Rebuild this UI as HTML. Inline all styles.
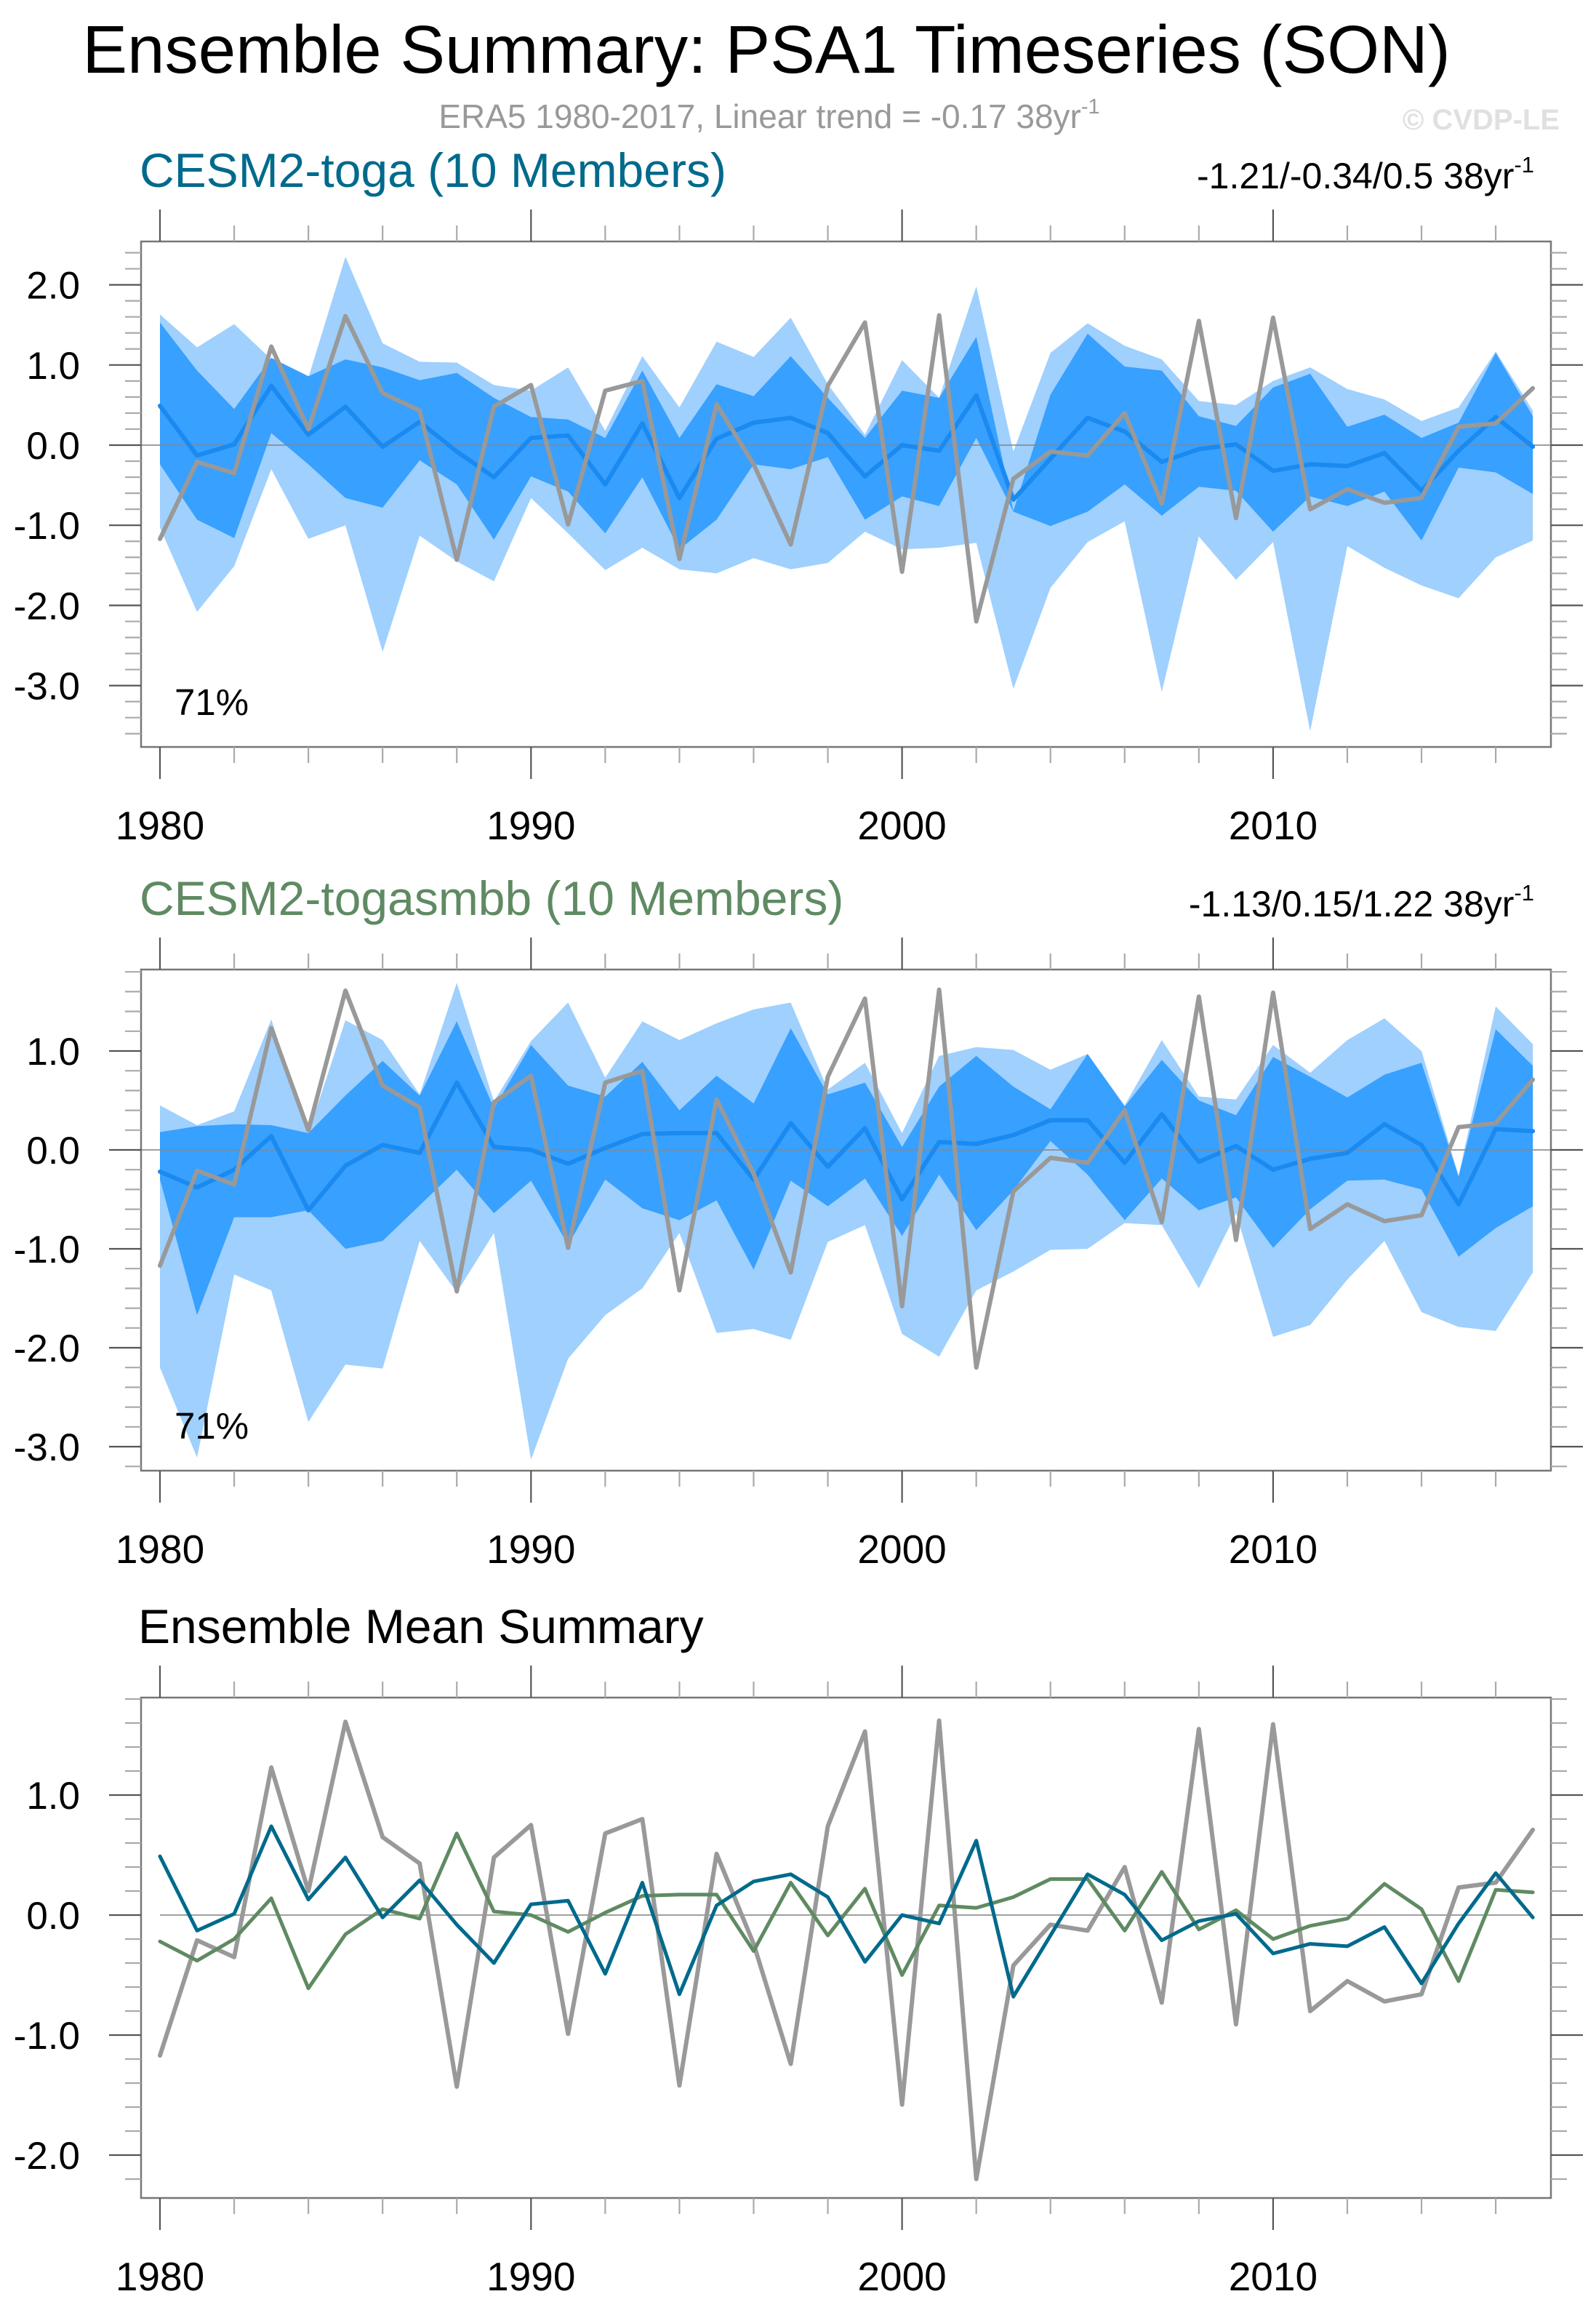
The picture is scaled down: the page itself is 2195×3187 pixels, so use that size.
<!DOCTYPE html>
<html><head><meta charset="utf-8"><title>Ensemble Summary: PSA1 Timeseries (SON)</title>
<style>html,body{margin:0;padding:0;background:#fff}svg{display:block}text{font-family:"Liberation Sans",sans-serif}</style>
</head><body>
<svg id="fig" xmlns="http://www.w3.org/2000/svg" width="2195" height="3187" viewBox="0 0 2195 3187">
<rect width="2195" height="3187" fill="#fff"/>
<text x="1054" y="100" font-size="92.5" text-anchor="middle" fill="#000">Ensemble Summary: PSA1 Timeseries (SON)</text>
<text x="1058" y="176" font-size="46" text-anchor="middle" fill="#999">ERA5 1980-2017, Linear trend = -0.17 38yr<tspan font-size="29" dy="-20">-1</tspan></text>
<text x="2145" y="178" font-size="40" font-weight="bold" text-anchor="end" fill="#e0e0e0">© CVDP-LE</text>
<g id="plots"></g>
</svg>
<script>
const years = [];
for (let y = 1980; y <= 2017; y++) years.push(y);
const obs = [-1.17,-0.21,-0.35,1.23,0.2,1.61,0.65,0.43,-1.43,0.48,0.75,-0.99,0.68,0.8,-1.42,0.51,-0.24,-1.24,0.74,1.53,-1.58,1.62,-2.2,-0.42,-0.08,-0.13,0.4,-0.73,1.55,-0.91,1.59,-0.8,-0.55,-0.72,-0.66,0.23,0.27,0.71];
const togaMean = [0.49,-0.13,0.01,0.74,0.13,0.48,-0.02,0.29,-0.08,-0.4,0.09,0.12,-0.49,0.27,-0.66,0.08,0.28,0.34,0.15,-0.39,0,-0.07,0.62,-0.68,-0.17,0.34,0.17,-0.21,-0.05,0.01,-0.32,-0.24,-0.26,-0.1,-0.57,-0.07,0.35,-0.02];
const togaMaxAll = [1.63,1.22,1.51,1.07,0.84,2.35,1.27,1.04,1.03,0.75,0.68,0.97,0.18,1.11,0.47,1.29,1.1,1.59,0.76,0.13,1.06,0.59,1.98,-0.08,1.15,1.52,1.24,1.07,0.55,0.5,0.8,0.97,0.7,0.57,0.3,0.47,1.17,0.43];
const togaHi = [1.53,0.93,0.45,1.09,0.86,1.07,0.97,0.81,0.9,0.59,0.35,0.32,0.09,0.93,0.09,0.76,0.61,1.11,0.59,0.09,0.68,0.59,1.35,-0.82,0.63,1.39,0.98,0.93,0.36,0.24,0.72,0.89,0.23,0.38,0.09,0.28,1.15,0.36];
const togaLo = [-0.24,-0.93,-1.16,0.15,-0.24,-0.66,-0.78,-0.19,-0.49,-1.18,-0.39,-0.58,-1.1,-0.4,-1.3,-0.93,-0.24,-0.3,-0.15,-0.93,-0.64,-0.76,0.09,-0.83,-1.01,-0.83,-0.49,-0.88,-0.52,-0.57,-1.08,-0.64,-0.76,-0.58,-1.19,-0.28,-0.34,-0.61];
const togaMinAll = [-1.03,-2.08,-1.51,-0.3,-1.17,-1.0,-2.58,-1.13,-1.45,-1.7,-0.66,-1.1,-1.56,-1.28,-1.55,-1.6,-1.41,-1.55,-1.47,-1.08,-1.3,-1.28,-1.22,-3.04,-1.78,-1.21,-0.95,-3.08,-1.14,-1.68,-1.21,-3.57,-1.26,-1.53,-1.75,-1.91,-1.4,-1.19];
const smbbMean = [-0.22,-0.38,-0.2,0.14,-0.61,-0.16,0.05,-0.03,0.68,0.03,0,-0.14,0.02,0.16,0.17,0.17,-0.3,0.27,-0.17,0.22,-0.5,0.08,0.06,0.15,0.3,0.3,-0.13,0.36,-0.12,0.04,-0.2,-0.09,-0.03,0.26,0.05,-0.55,0.21,0.19];
const smbbMaxAll = [0.45,0.25,0.39,1.32,0.17,1.31,1.11,0.56,1.69,0.49,1.1,1.49,0.73,1.3,1.11,1.28,1.42,1.49,0.61,0.88,0.17,0.95,1.04,1.01,0.81,0.97,0.45,1.11,0.54,0.51,1.06,0.78,1.11,1.33,1.0,-0.26,1.45,1.07];
const smbbHi = [0.18,0.24,0.26,0.25,0.17,0.55,0.9,0.55,1.3,0.42,1.06,0.65,0.54,0.89,0.4,0.75,0.47,1.23,0.56,0.68,0.03,0.64,0.95,0.64,0.41,0.97,0.44,0.91,0.5,0.35,0.94,0.74,0.53,0.76,0.88,-0.27,1.22,0.85];
const smbbLo = [-0.3,-1.67,-0.68,-0.68,-0.61,-1.0,-0.92,-0.56,-0.2,-0.64,-0.31,-0.96,-0.3,-0.59,-0.71,-0.51,-1.21,-0.31,-0.57,-0.29,-0.87,-0.25,-0.81,-0.41,0.09,-0.25,-0.71,-0.29,-0.61,-0.48,-0.99,-0.6,-0.31,-0.3,-0.4,-1.08,-0.79,-0.57];
const smbbMinAll = [-2.2,-3.11,-1.26,-1.42,-2.75,-2.17,-2.21,-0.92,-1.44,-0.84,-3.13,-2.11,-1.67,-1.4,-0.84,-1.85,-1.81,-1.92,-0.93,-0.76,-1.86,-2.09,-1.42,-1.23,-1.01,-1.0,-0.74,-0.76,-1.4,-0.64,-1.89,-1.77,-1.31,-0.92,-1.64,-1.79,-1.83,-1.24];
const xTickYears = [1980,1990,2000,2010];
const NS = "http://www.w3.org/2000/svg";
const root = document.getElementById('plots');
function mk(tag, attrs, parent, txt) {
  const e = document.createElementNS(NS, tag);
  for (const k in attrs) e.setAttribute(k, attrs[k]);
  if (txt !== undefined) e.textContent = txt;
  (parent || root).appendChild(e);
  return e;
}
function panel(cfg) {
  const g = mk('g', {});
  
  
  const L = 194, R = 2133, T = cfg.top, B = cfg.bottom;
  const xs = yr => 220 + (yr - 1980) * 51.03;
  const ys = v => cfg.zero - v * cfg.unit;
  const t1 = mk('text', {x: cfg.titleX, y: T - 75, 'font-size': cfg.titleSize, fill: cfg.titleColor}, g, cfg.title);
  
  
  if (cfg.trend) {
    const t2 = mk('text', {x: 2110, y: T - 73, 'font-size': 50, 'text-anchor': 'end', fill: '#000'}, g, cfg.trend);
    mk('tspan', {'font-size': 31, dy: -22}, t2, '-1');
    
    
  }
  const clipId = 'clip' + T;
  const cp = mk('clipPath', {id: clipId}, g);
  mk('rect', {x: L, y: T, width: R - L, height: B - T}, cp);
  const pg = mk('g', {'clip-path': 'url(#' + clipId + ')'}, g);
  function band(hi, lo, color, name) {
    let d = '';
    years.forEach((yr, i) => { d += (i ? 'L' : 'M') + xs(yr).toFixed(1) + ',' + ys(hi[i]).toFixed(1); });
    for (let i = years.length - 1; i >= 0; i--) d += 'L' + xs(years[i]).toFixed(1) + ',' + ys(lo[i]).toFixed(1);
    const p = mk('path', {d: d + 'Z', fill: color}, pg);
    
    
  }
  function line(vals, color, w, name) {
    const pts = years.map((yr, i) => xs(yr).toFixed(1) + ',' + ys(vals[i]).toFixed(1)).join(' ');
    const p = mk('polyline', {points: pts, fill: 'none', stroke: color, 'stroke-width': w, 'stroke-linejoin': 'round', 'stroke-linecap': 'round'}, pg);
    
    
  }
  if (cfg.bands) {
    band(cfg.maxAll, cfg.minAll, '#9fd0fe', 'range-band-all-members');
    band(cfg.hi, cfg.lo, '#38a0fe', 'range-band-inner');
  }
  const zl = mk('line', {x1: cfg.bands ? L : xs(1980), x2: cfg.bands ? R : xs(2017), y1: ys(0), y2: ys(0), stroke: '#888', 'stroke-width': 2, opacity: 0.8}, pg);
  
  
  cfg.lines.forEach(l => line(l.vals, l.color, l.w, l.name));
  const frame = mk('rect', {x: L, y: T, width: R - L, height: B - T, fill: 'none', stroke: '#777', 'stroke-width': 2.5}, g);
  
  
  for (let yr = 1980; yr <= 2018; yr += 2) {
    const x = xs(yr);
    if (x > R) break;
    const major = (yr % 10 === 0);
    const len = major ? 44 : 22;
    const c = major ? '#555' : '#aaa';
    mk('line', {x1: x, x2: x, y1: T, y2: T - len, stroke: c, 'stroke-width': 2.2}, g);
    mk('line', {x1: x, x2: x, y1: B, y2: B + len, stroke: c, 'stroke-width': 2.2}, g);
  }
  xTickYears.forEach(yr => {
    const t = mk('text', {x: xs(yr), y: B + 127, 'font-size': 55, 'text-anchor': 'middle', fill: '#000'}, g, String(yr));
    
    
  });
  for (let k = -50; k <= 50; k++) {
    const v = k * 0.2;
    const y = ys(v);
    if (y < T - 1 || y > B + 1) continue;
    const major = (k % 5 === 0);
    const len = major ? 44 : 22;
    const c = major ? '#555' : '#aaa';
    mk('line', {x1: L, x2: L - len, y1: y, y2: y, stroke: c, 'stroke-width': 2.2}, g);
    mk('line', {x1: R, x2: R + len, y1: y, y2: y, stroke: c, 'stroke-width': 2.2}, g);
    if (major) {
      const t = mk('text', {x: 110, y: y + 19, 'font-size': 53, 'text-anchor': 'end', fill: '#000'}, g, (v === 0 ? 0 : v).toFixed(1));
      
      
    }
  }
  if (cfg.pct) {
    const t = mk('text', {x: 240, y: B - 44, 'font-size': 51, fill: '#000'}, g, cfg.pct);
    
    
  }
}
panel({name: 'panel-cesm2-toga', top: 332, bottom: 1027, zero: 612, unit: 110.2, title: 'CESM2-toga (10 Members)', titleX: 192, titleSize: 66, titleColor: '#006a8c',
  trend: '-1.21/-0.34/0.5 38yr', bands: true, maxAll: togaMaxAll, hi: togaHi, lo: togaLo, minAll: togaMinAll, pct: '71%',
  lines: [{vals: togaMean, color: '#1a8af0', w: 6, name: 'ensemble-mean-line'}, {vals: obs, color: '#999', w: 6, name: 'era5-obs-line'}]});
panel({name: 'panel-cesm2-togasmbb', top: 1333, bottom: 2022, zero: 1581, unit: 136, title: 'CESM2-togasmbb (10 Members)', titleX: 192, titleSize: 66, titleColor: '#5f8a62',
  trend: '-1.13/0.15/1.22 38yr', bands: true, maxAll: smbbMaxAll, hi: smbbHi, lo: smbbLo, minAll: smbbMinAll, pct: '71%',
  lines: [{vals: smbbMean, color: '#1a8af0', w: 6, name: 'ensemble-mean-line'}, {vals: obs, color: '#999', w: 6, name: 'era5-obs-line'}]});
panel({name: 'panel-ensemble-mean-summary', top: 2334, bottom: 3022, zero: 2633, unit: 165, title: 'Ensemble Mean Summary', titleX: 190, titleSize: 66, titleColor: '#000',
  bands: false,
  lines: [{vals: obs, color: '#999', w: 6, name: 'era5-obs-line'}, {vals: smbbMean, color: '#5f8a62', w: 5, name: 'togasmbb-mean-line'}, {vals: togaMean, color: '#006a8c', w: 5, name: 'toga-mean-line'}]});
</script>
</body></html>
